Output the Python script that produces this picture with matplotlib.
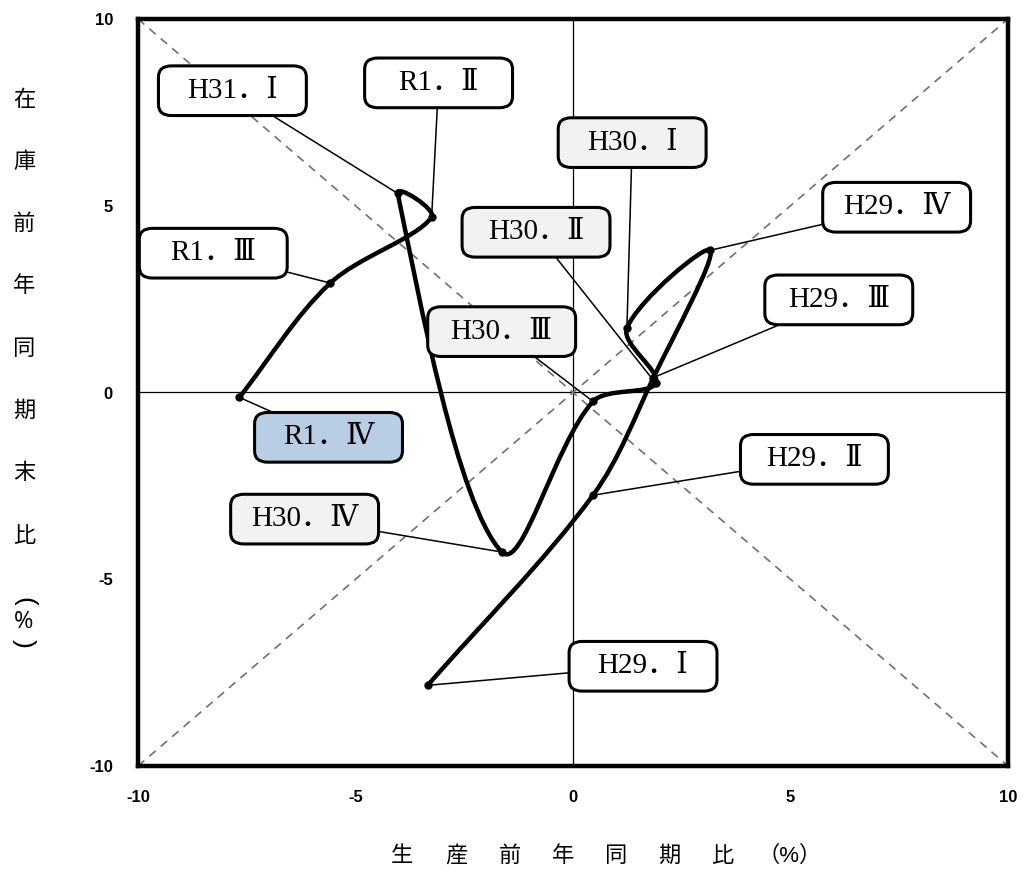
import numpy as np
import matplotlib
matplotlib.use("Agg")
import matplotlib.pyplot as plt
from matplotlib.path import Path
from matplotlib.patches import PathPatch, FancyBboxPatch

# quarterly points (production yoy %, inventory yoy %)
quarters = ["H29．Ⅰ", "H29．Ⅱ", "H29．Ⅲ", "H29．Ⅳ", "H30．Ⅰ", "H30．Ⅱ",
            "H30．Ⅲ", "H30．Ⅳ", "H31．Ⅰ", "R1．Ⅱ", "R1．Ⅲ", "R1．Ⅳ"]
prod = [-3.34, 0.46, 1.85, 3.16, 1.24, 1.9, 0.46, -1.64, -4.03, -3.25, -5.58, -7.67]
inv = [-7.84, -2.75, 0.4, 3.81, 1.73, 0.25, -0.24, -4.27, 5.33, 4.69, 2.93, -0.13]

# label box centres (data coords) and fill colours
label_x = [1.61, 5.55, 6.11, 7.44, 1.36, -0.85, -1.64, -6.17, -7.83, -3.09, -8.27, -5.62]
label_y = [-7.33, -1.79, 2.48, 4.96, 6.69, 4.29, 1.63, -3.39, 8.08, 8.29, 3.73, -1.2]
label_fc = ["white"] * 4 + ["#f2f2f2"] * 4 + ["white"] * 3 + ["#b9cde5"]

plt.rcParams['font.family'] = ['Liberation Sans', 'Noto Sans CJK JP']
plt.rcParams['axes.unicode_minus'] = False

fig = plt.figure(figsize=(10.23, 8.71), dpi=100)
ax = fig.add_axes([138 / 1023, 1 - 766 / 871, 870 / 1023, 747 / 871])
ax.set_xlim(-10, 10)
ax.set_ylim(-10, 10)
ax.set_xticks([-10, -5, 0, 5, 10])
ax.set_yticks([-10, -5, 0, 5, 10])
ax.tick_params(length=0, labelsize=12)
ax.tick_params(axis='x', pad=17)
ax.tick_params(axis='y', pad=18)
for lab in ax.get_xticklabels() + ax.get_yticklabels():
    lab.set_fontweight('bold')
for s in ax.spines.values():
    s.set_linewidth(3.2)

# reference lines
ax.axhline(0, color='black', lw=0.9, zorder=1)
ax.axvline(0, color='black', lw=0.9, zorder=1)
ax.plot([-10, 10], [-10, 10], ls=(0, (5, 4)), color='#707070', lw=1.2, zorder=1)
ax.plot([-10, 10], [10, -10], ls=(0, (5, 4)), color='#707070', lw=1.2, zorder=1)

# smoothed line, tangents scaled by neighbouring segment lengths
pts = np.column_stack([prod, inv])
n = len(pts)
seg = np.linalg.norm(np.diff(pts, axis=0), axis=1)
verts = [pts[0]]
codes = [Path.MOVETO]
for i in range(n - 1):
    p0 = pts[max(i - 1, 0)]
    p1 = pts[i]
    p2 = pts[i + 1]
    p3 = pts[min(i + 2, n - 1)]
    L = seg[i]
    Lprev = seg[i - 1] if i > 0 else 0.0
    Lnext = seg[i + 1] if i + 1 < n - 1 else 0.0
    c1 = p1 + (p2 - p0) * L / (Lprev + L) / 3.0
    c2 = p2 - (p3 - p1) * L / (L + Lnext) / 3.0
    verts += [c1, c2, p2]
    codes += [Path.CURVE4] * 3
ax.add_patch(PathPatch(Path(verts, codes), fill=False, lw=3.2, color='black',
                       capstyle='round', joinstyle='round', zorder=3))
ax.plot(prod, inv, 'o', color='black', ms=5, zorder=4)

# labels with leader lines
bw, bh = 3.4, 1.33
for q, x, y, lx, ly, fc in zip(quarters, prod, inv, label_x, label_y, label_fc):
    box = FancyBboxPatch((lx - bw / 2, ly - bh / 2), bw, bh,
                         boxstyle="round,pad=0,rounding_size=0.3",
                         fc=fc, ec='black', lw=2.2, zorder=5)
    ax.add_patch(box)
    ax.annotate(q, xy=(x, y), xytext=(lx, ly), ha='center', va='center',
                fontsize=21,
                family=['Liberation Serif', 'DejaVu Serif', 'Noto Sans CJK JP'],
                zorder=6,
                arrowprops=dict(arrowstyle='-', color='black', lw=1.1,
                                patchA=box, shrinkA=0, shrinkB=0))

# axis titles
ylab = ["在", "庫", "前", "年", "同", "期", "末", "比"]
for i, ch in enumerate(ylab):
    fig.text(24 / 1023, 1 - (100 + i * 62.3) / 871, ch, fontsize=16,
             ha='center', va='center')
fig.text(24 / 1023, 1 - 601 / 871, "(", fontsize=19, rotation=270,
         ha='center', va='center')
fig.text(24 / 1023, 1 - 622 / 871, "%", fontsize=17, ha='center', va='center',
         family=['Open Sans'])
fig.text(24 / 1023, 1 - 643 / 871, ")", fontsize=19, rotation=270,
         ha='center', va='center')

xlab = ["生", "産", "前", "年", "同", "期", "比", "（%）"]
xpos = [402, 456, 510, 563, 616, 669, 722, 790]
for ch, px in zip(xlab, xpos):
    fig.text(px / 1023, 1 - 856 / 871, ch, fontsize=16, ha='center', va='center')

fig.savefig("out.png", dpi=100)
